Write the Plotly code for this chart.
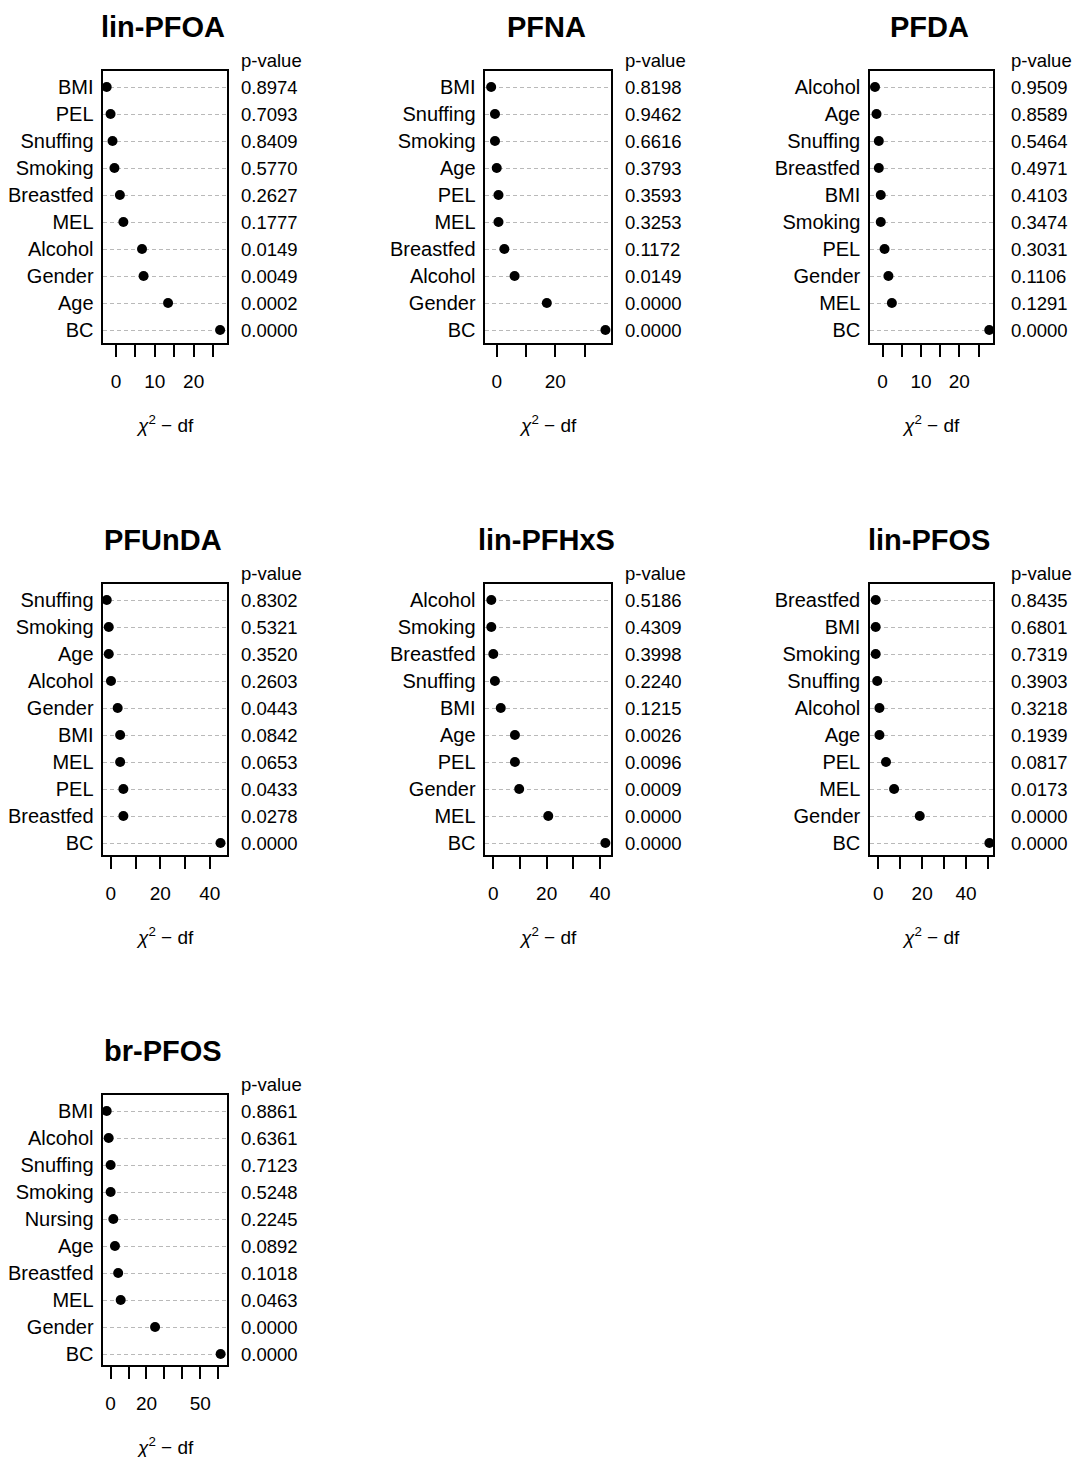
import plotly.graph_objects as go

FONT = "Liberation Sans, Arial, sans-serif"

# ---------------- data ----------------
titles = ["lin-PFOA", "PFNA", "PFDA", "PFUnDA", "lin-PFHxS", "lin-PFOS", "br-PFOS"]

pfoa_labels = ["BMI", "PEL", "Snuffing", "Smoking", "Breastfed", "MEL", "Alcohol", "Gender", "Age", "BC"]
pfoa_chi = [-2.4, -1.4, -0.9, -0.4, 1.0, 1.9, 6.7, 7.1, 13.4, 26.8]
pfoa_p = ["0.8974", "0.7093", "0.8409", "0.5770", "0.2627", "0.1777", "0.0149", "0.0049", "0.0002", "0.0000"]

pfna_labels = ["BMI", "Snuffing", "Smoking", "Age", "PEL", "MEL", "Breastfed", "Alcohol", "Gender", "BC"]
pfna_chi = [-1.9, -0.6, -0.6, 0.0, 0.6, 0.6, 2.6, 6.1, 17.1, 37.1]
pfna_p = ["0.8198", "0.9462", "0.6616", "0.3793", "0.3593", "0.3253", "0.1172", "0.0149", "0.0000", "0.0000"]

pfda_labels = ["Alcohol", "Age", "Snuffing", "Breastfed", "BMI", "Smoking", "PEL", "Gender", "MEL", "BC"]
pfda_chi = [-2.0, -1.6, -1.0, -1.0, -0.5, -0.5, 0.5, 1.5, 2.4, 27.8]
pfda_p = ["0.9509", "0.8589", "0.5464", "0.4971", "0.4103", "0.3474", "0.3031", "0.1106", "0.1291", "0.0000"]

pfunda_labels = ["Snuffing", "Smoking", "Age", "Alcohol", "Gender", "BMI", "MEL", "PEL", "Breastfed", "BC"]
pfunda_chi = [-1.6, -0.8, -0.8, 0.1, 2.8, 3.8, 3.8, 5.1, 5.1, 44.3]
pfunda_p = ["0.8302", "0.5321", "0.3520", "0.2603", "0.0443", "0.0842", "0.0653", "0.0433", "0.0278", "0.0000"]

pfhxs_labels = ["Alcohol", "Smoking", "Breastfed", "Snuffing", "BMI", "Age", "PEL", "Gender", "MEL", "BC"]
pfhxs_chi = [-0.75, -0.75, 0.0, 0.6, 2.8, 8.1, 8.1, 9.7, 20.6, 42.0]
pfhxs_p = ["0.5186", "0.4309", "0.3998", "0.2240", "0.1215", "0.0026", "0.0096", "0.0009", "0.0000", "0.0000"]

linpfos_labels = ["Breastfed", "BMI", "Smoking", "Snuffing", "Alcohol", "Age", "PEL", "MEL", "Gender", "BC"]
linpfos_chi = [-1.2, -1.2, -1.2, -0.5, 0.5, 0.5, 3.5, 7.2, 18.9, 50.7]
linpfos_p = ["0.8435", "0.6801", "0.7319", "0.3903", "0.3218", "0.1939", "0.0817", "0.0173", "0.0000", "0.0000"]

brpfos_labels = ["BMI", "Alcohol", "Snuffing", "Smoking", "Nursing", "Age", "Breastfed", "MEL", "Gender", "BC"]
brpfos_chi = [-2.2, -1.1, 0.0, 0.0, 1.5, 2.4, 4.2, 5.6, 24.8, 61.4]
brpfos_p = ["0.8861", "0.6361", "0.7123", "0.5248", "0.2245", "0.0892", "0.1018", "0.0463", "0.0000", "0.0000"]

# tick values and which of them carry a label
tick_vals = [
    [0, 5, 10, 15, 20, 25],
    [0, 10, 20, 30],
    [0, 5, 10, 15, 20, 25],
    [0, 10, 20, 30, 40],
    [0, 10, 20, 30, 40],
    [0, 10, 20, 30, 40, 50],
    [0, 10, 20, 30, 40, 50, 60],
]
tick_labels = [
    ["0", " ", "10", " ", "20", " "],
    ["0", " ", "20", " "],
    ["0", " ", "10", " ", "20", " "],
    ["0", " ", "20", " ", "40"],
    ["0", " ", "20", " ", "40"],
    ["0", " ", "20", " ", "40", " "],
    ["0", " ", "20", " ", " ", "50", " "],
]

# ---------------- layout geometry (pixels) ----------------
W, H = 1072, 1457
x_ranges = [(-3.27, 28.5), (-3.9, 38.9), (-3.3, 28.7), (-3.0, 46.8), (-3.0, 44.0), (-3.8, 52.2), (-4.1, 64.8)]
col_px = [(103.3, 226.7), (485.3, 610.7), (870.0, 992.7)]
pval_gap = [12, 12, 16]
row_px = [(71, 343), (584, 855), (1095, 1365)]
panel_pos = [(0, 0), (0, 1), (0, 2), (1, 0), (1, 1), (1, 2), (2, 0)]

panels = [
    (pfoa_labels, pfoa_chi, pfoa_p),
    (pfna_labels, pfna_chi, pfna_p),
    (pfda_labels, pfda_chi, pfda_p),
    (pfunda_labels, pfunda_chi, pfunda_p),
    (pfhxs_labels, pfhxs_chi, pfhxs_p),
    (linpfos_labels, linpfos_chi, linpfos_p),
    (brpfos_labels, brpfos_chi, brpfos_p),
]

fig = go.Figure()
annotations = []
layout_axes = {}

for k, ((labels, chi, pv), (r, c)) in enumerate(zip(panels, panel_pos)):
    n = k + 1
    sfx = "" if n == 1 else str(n)
    xa, ya = "x" + sfx, "y" + sfx
    rows = list(range(len(labels)))
    fig.add_trace(go.Scatter(
        x=chi, y=rows, mode="markers", xaxis=xa, yaxis=ya,
        marker=dict(color="black", size=10, symbol="circle"),
        showlegend=False, cliponaxis=False, hoverinfo="x+y",
    ))
    x0, x1 = col_px[c]
    t0, t1 = row_px[r]
    layout_axes["xaxis" + sfx] = dict(
        domain=[x0 / W, x1 / W], anchor=ya, range=list(x_ranges[k]),
        showgrid=False, zeroline=False, showline=True, mirror=True,
        linecolor="black", linewidth=1.5,
        ticks="outside", ticklen=12, tickwidth=1.5, tickcolor="black",
        tickvals=tick_vals[k], ticktext=tick_labels[k],
        tickfont=dict(family=FONT, size=19, color="black"),
        ticklabelstandoff=8, fixedrange=True,
    )
    span = (t1 - t0) / 27.0
    top = -16 / 27.0
    layout_axes["yaxis" + sfx] = dict(
        domain=[1 - t1 / H, 1 - t0 / H], anchor=xa,
        range=[top + span, top],
        tickvals=rows, ticktext=labels,
        tickfont=dict(family=FONT, size=20, color="black"),
        showgrid=True, gridcolor="#b9b9b9", griddash="4px,3px", gridwidth=1,
        zeroline=False, showline=True, mirror=True,
        linecolor="black", linewidth=1.5, ticks="", ticklabelstandoff=4,
        fixedrange=True,
    )
    # title
    annotations.append(dict(
        text="<b>" + titles[k] + "</b>", xref=xa + " domain", yref=ya + " domain",
        x=0.5, y=1, yshift=44, xshift=-2, xanchor="center", yanchor="middle", showarrow=False,
        font=dict(family=FONT, size=29, color="black"),
    ))
    # p-value header
    annotations.append(dict(
        text="p-value", xref=xa + " domain", yref=ya + " domain",
        x=1, y=1, xshift=pval_gap[c], yshift=11, xanchor="left", yanchor="middle", showarrow=False,
        font=dict(family=FONT, size=18.5, color="black"),
    ))
    for i, p in enumerate(pv):
        annotations.append(dict(
            text=p, xref=xa + " domain", yref=ya,
            x=1, y=i, xshift=pval_gap[c], xanchor="left", yanchor="middle", showarrow=False,
            font=dict(family=FONT, size=18.5, color="black"),
        ))
    # x-axis title
    annotations.append(dict(
        text="<i>χ</i><sup>2</sup> − df", xref=xa + " domain", yref=ya + " domain",
        x=0.5, y=0, yshift=-81, xanchor="center", yanchor="middle", showarrow=False,
        font=dict(family=FONT, size=19, color="black"),
    ))

fig.update_layout(
    width=W, height=H, autosize=False,
    margin=dict(l=0, r=0, t=0, b=0),
    paper_bgcolor="white", plot_bgcolor="white",
    annotations=annotations,
    **layout_axes,
)

fig.write_html(
    "out.html",
    config={"displayModeBar": False},
    post_script="document.body.style.margin='0';document.body.style.overflow='hidden';",
)
